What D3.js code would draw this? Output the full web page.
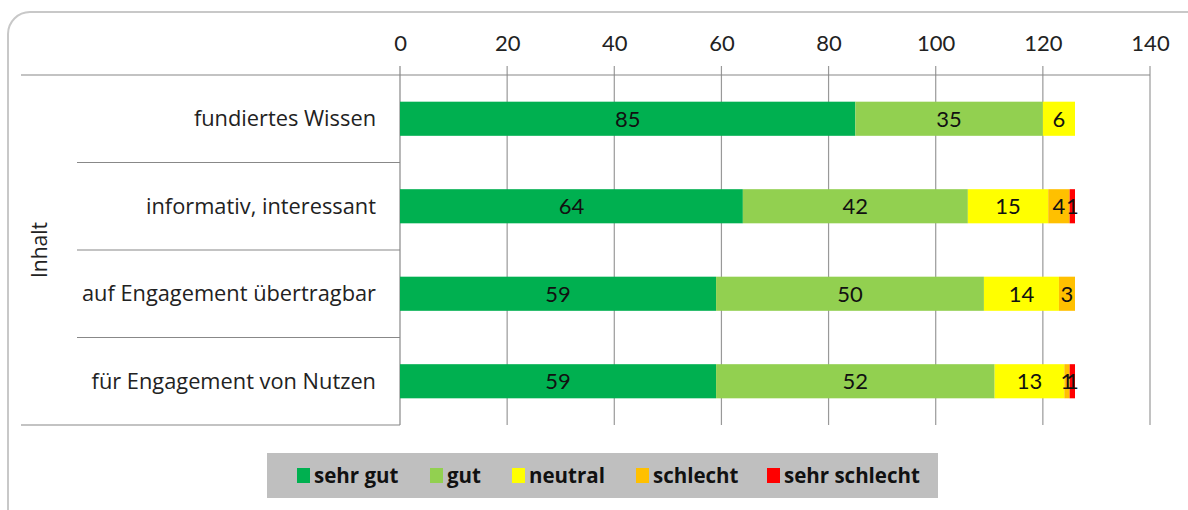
<!DOCTYPE html>
<html><head><meta charset="utf-8">
<script src="https://cdn.jsdelivr.net/npm/d3@7"></script>
<style>body{margin:0;background:#fff}svg{display:block}text{font-family:Lato,"Open Sans",sans-serif}.os{font-family:"Open Sans",sans-serif}</style>
</head><body><svg id="c" width="1188" height="510"></svg>
<script>
const categories = ["fundiertes Wissen","informativ, interessant","auf Engagement übertragbar","für Engagement von Nutzen"];
const seriesNames = ["sehr gut","gut","neutral","schlecht","sehr schlecht"];
const sehrGut = [85,64,59,59];
const gut = [35,42,50,52];
const neutral = [6,15,14,13];
const schlecht = [0,4,3,1];
const sehrSchlecht = [0,1,0,1];
const xTicks = [0,20,40,60,80,100,120,140];
const groupLabel = "Inhalt";
const colors = ["#00b050","#92d050","#ffff00","#ffc000","#ff0000"];

(function(){
const values = [sehrGut,gut,neutral,schlecht,sehrSchlecht];
const rows = categories.map((c,i)=>{const r={cat:c};seriesNames.forEach((s,j)=>r[s]=values[j][i]);return r;});
const stack = d3.stack().keys(seriesNames)(rows);

const svg = d3.select("#c");
svg.append("rect").attr("x",8).attr("y",12).attr("width",1200).attr("height",520).attr("rx",22)
  .attr("fill","#fff").attr("stroke","#c8c8c8").attr("stroke-width",2);

const x = d3.scaleLinear().domain([0,140]).range([400,1150]);
const y = d3.scaleBand().domain(categories).range([75,425]).paddingInner(0.61).paddingOuter(0.305);
const yTop=75,yBottom=425;

svg.append("g").selectAll("line").data(xTicks).join("line")
  .attr("x1",d=>x(d)).attr("x2",d=>x(d)).attr("y1",66).attr("y2",yBottom)
  .attr("stroke",(d)=>d===0?"#888":"#999").attr("stroke-width",1.2);
const xa = d3.axisTop(x).tickValues(xTicks).tickSize(0).tickPadding(0);
const gx = svg.append("g").attr("transform",`translate(0,51)`).call(xa);
gx.select(".domain").remove();
gx.selectAll("text").attr("font-size",22).attr("fill","#222").attr("dy","0");

svg.append("line").attr("x1",21).attr("x2",1150).attr("y1",yTop).attr("y2",yTop).attr("stroke","#888").attr("stroke-width",1.2);
svg.append("line").attr("x1",21).attr("x2",400).attr("y1",yBottom).attr("y2",yBottom).attr("stroke","#888").attr("stroke-width",1.2);
const step = y.step();
svg.append("g").selectAll("line").data(categories.slice(1)).join("line")
  .attr("x1",77).attr("x2",400)
  .attr("y1",(d)=>y(d)-y.paddingInner()*step/2).attr("y2",(d)=>y(d)-y.paddingInner()*step/2)
  .attr("stroke","#888").attr("stroke-width",1.2);

svg.append("g").selectAll("text").data(categories).join("text").attr("class","os")
  .attr("x",376).attr("y",d=>y(d)+y.bandwidth()/2).attr("dy","0.35em")
  .attr("text-anchor","end").attr("font-size",21.8).attr("fill","#222").text(d=>d);
svg.append("text").attr("class","os").attr("transform",`translate(47,250) rotate(-90)`).attr("text-anchor","middle")
  .attr("font-size",21).attr("fill","#222").text(groupLabel);

const g = svg.append("g");
stack.forEach((s,j)=>{
  g.append("g").selectAll("rect").data(s).join("rect")
    .attr("x",d=>x(d[0])).attr("width",d=>x(d[1])-x(d[0]))
    .attr("y",d=>y(d.data.cat)).attr("height",y.bandwidth()).attr("fill",colors[j]);
});
stack.forEach((s,j)=>{
  g.append("g").selectAll("text").data(s.filter(d=>d[1]-d[0]>0)).join("text")
    .attr("x",d=>(x(d[0])+x(d[1]))/2).attr("y",d=>y(d.data.cat)+y.bandwidth()/2).attr("dy","0.36em")
    .attr("text-anchor","middle").attr("font-size",22).attr("fill","#111").text(d=>d[1]-d[0]);
});

const lg = svg.append("g");
lg.append("rect").attr("x",267).attr("y",453).attr("width",671).attr("height",45).attr("fill","#bfbfbf");
const lx = [297,430,512,636,767];
seriesNames.forEach((n,j)=>{
  lg.append("rect").attr("x",lx[j]).attr("y",468).attr("width",13).attr("height",15).attr("fill",colors[j]);
  lg.append("text").attr("class","os").attr("x",lx[j]+17).attr("y",476).attr("dy","0.35em").attr("font-size",20.5)
    .attr("font-weight","bold").attr("fill","#111").text(n);
});
})();
</script></body></html>
